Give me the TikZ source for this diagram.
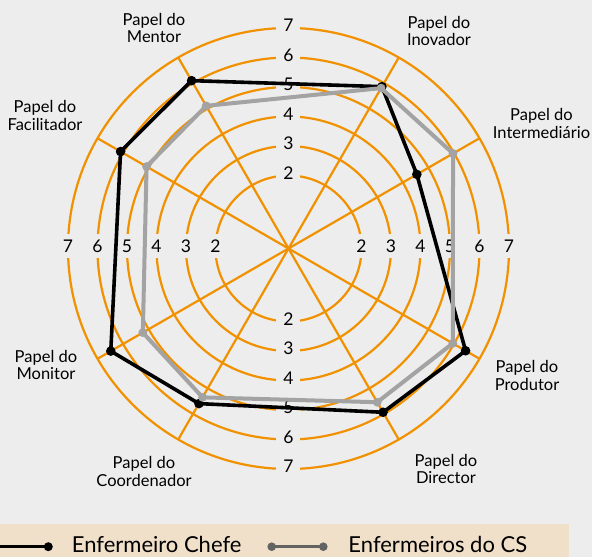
\documentclass[tikz,border=0pt]{standalone}
\usepackage{fontspec}
\setmainfont{Lato}
\definecolor{bg}{HTML}{ECEDEC}
\definecolor{beige}{HTML}{F0DFC9}
\definecolor{org}{HTML}{F29100}
\definecolor{grayl}{HTML}{A3A3A3}
\definecolor{grayd}{HTML}{636363}
\begin{document}
\begin{tikzpicture}[x=1pt,y=1pt,
  ring/.style={draw=org, line width=2.2pt},
  spoke/.style={draw=org, line width=2.2pt},
  tick/.style={fill=bg, inner sep=0pt, minimum size=24pt, font=\fontsize{17.5}{17.5}\selectfont},
  lbl/.style={align=center, font=\fontsize{16.5}{17.5}\selectfont, inner sep=0pt},
  chefe/.style={draw=black, line width=3.6pt, line join=round},
  cs/.style={draw=grayl, line width=4pt, line join=round},
  legtext/.style={anchor=base west, font=\fontsize{22}{22}\selectfont, inner sep=0pt},
  legline/.style={line width=3pt}
]
\useasboundingbox[fill=bg] (-288.5,-308.5) rectangle (303.5,248.5);
\fill[beige] (-288.5,-308.5) rectangle (280.8,-275.8);
\coordinate (O) at (0,0);
% rings
\foreach \v/\r in {2/73,3/102.5,4/132,5/161.5,6/191,7/220.5} \draw[ring] (O) circle (\r);
% spokes
\foreach \a [count=\i] in {30,60,120,150,210,240,300,330} {
  \coordinate (s\i) at (\a:220.5);
  \draw[spoke] (O) -- (s\i);
}
% scale labels
\foreach \v/\r in {2/73,3/102.5,4/132,5/161.5,6/191,7/220.5} {
  \node[tick] (tn\v) at (0,\r+2.5) {\v};
  \node[tick] (ts\v) at (0,-\r+2.5) {\v};
  \node[tick] (te\v) at (\r,2.5) {\v};
  \node[tick] (tw\v) at (-\r,2.5) {\v};
}
% axis labels
\node[lbl] (mentor) at (-134.5,220.5) {Papel do\\Mentor};
\node[lbl] (inovador) at (150.5,217.5) {Papel do\\Inovador};
\node[lbl] (interm) at (253,124.8) {Papel do\\Intermediário};
\node[lbl] (facil) at (-243.5,133) {Papel do\\Facilitador};
\node[lbl] (monitor) at (-242.5,-116.5) {Papel do\\Monitor};
\node[lbl] (coord) at (-144.5,-223.2) {Papel do\\Coordenador};
\node[lbl] (director) at (157.5,-220.5) {Papel do\\Director};
\node[lbl] (produtor) at (238.5,-126.8) {Papel do\\Produtor};
% data: Enfermeiro Chefe
\foreach \a/\r [count=\i] in {120/193.8,60/186.9,30/148.2,-30/204.5,-60/189.1,-120/179.1,-150/205.2,150/193.9}
  \coordinate (b\i) at (\a:\r);
\draw[chefe] (b1) -- (b2) -- (b3) -- (b4) -- (b5) -- (b6) -- (b7) -- (b8) -- cycle;
\foreach \i in {1,...,8} \fill[black] (b\i) circle (4.8);
% data: Enfermeiros do CS
\foreach \a/\r [count=\i] in {120/164.7,60/185.2,30/190,-30/189.7,-60/177.5,-120/171.9,-150/168.2,150/163.9}
  \coordinate (g\i) at (\a:\r);
\draw[cs] (g1) -- (g2) -- (g3) -- (g4) -- (g5) -- (g6) -- (g7) -- (g8) -- cycle;
\foreach \i in {1,...,8} \fill[grayl] (g\i) circle (4.4);
% legend
\coordinate (lb1) at (-288.5,-298.2);
\coordinate (lb2) at (-240.2,-298.2);
\draw[legline, black] (lb1) -- (lb2);
\fill[black] (lb2) circle (4.5);
\node[legtext] (leg1) at (-216.8,-304.3) {Enfermeiro Chefe};
\coordinate (lg1) at (-16.8,-298.2);
\coordinate (lg2) at (34.8,-298.2);
\draw[legline, grayd] (lg1) -- (lg2);
\fill[grayd] (lg1) circle (4.3);
\fill[grayd] (lg2) circle (4.3);
\node[legtext] (leg2) at (59.8,-304.3) {Enfermeiros do CS};
\end{tikzpicture}
\end{document}
